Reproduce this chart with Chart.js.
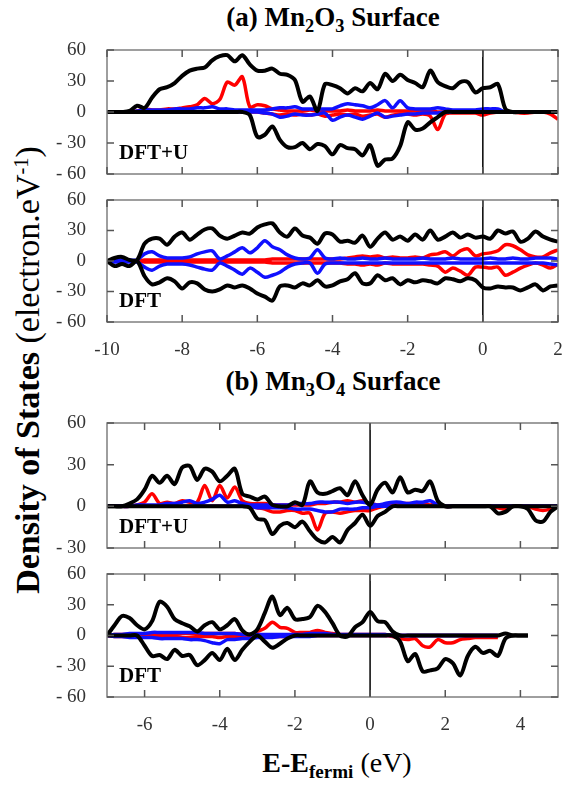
<!DOCTYPE html>
<html>
<head>
<meta charset="utf-8">
<script src="https://cdn.jsdelivr.net/npm/chart.js@4"></script>
<style>
    body { margin: 0; background: #ffffff; }
    #figure { position: relative; width: 586px; height: 787px; overflow: hidden; font-family: 'Liberation Serif', serif; }
    #figure canvas { position: absolute; left: 40px; }
    .panel-title { position: absolute; left: 39px; width: 588px; text-align: center; font-weight: bold; font-size: 27px; line-height: 30px; white-space: nowrap; }
    .panel-title sub, .axis-title sub { font-size: 0.68em; position: relative; top: 0.3em; vertical-align: baseline; line-height: 0; }
    .axis-title sup { font-size: 0.6em; position: relative; top: -0.55em; vertical-align: baseline; line-height: 0; }
    #y-title { position: absolute; left: -272px; top: 350px; width: 600px; height: 40px; line-height: 40px; text-align: center; font-size: 34px; white-space: nowrap; transform: rotate(-90deg); transform-origin: 50% 50%; }
    #x-title { position: absolute; left: 187px; top: 746px; width: 300px; height: 34px; line-height: 34px; text-align: center; font-size: 28px; white-space: nowrap; }
</style>
</head>
<body>
<div id="figure">
    <div class="panel-title" style="top: 2px;">(a) Mn<sub>2</sub>O<sub>3</sub> Surface</div>
    <div class="panel-title" style="top: 366px;">(b) Mn<sub>3</sub>O<sub>4</sub> Surface</div>
    <div id="y-title" class="axis-title"><b>Density of States</b> (electron.eV<sup>-1</sup>)</div>
    <div id="x-title" class="axis-title"><b>E-E<sub>fermi</sub></b> (eV)</div>
    <canvas id="dosA1" width="530" height="148" style="top: 38px;"></canvas>
    <canvas id="dosA2" width="530" height="174" style="top: 188px;"></canvas>
    <canvas id="dosB1" width="530" height="149" style="top: 411px;"></canvas>
    <canvas id="dosB2" width="530" height="175" style="top: 562px;"></canvas>
</div>
<script>
// energy grids (eV relative to E_fermi)
const energiesA = [
    -10, -9.8, -9.6, -9.4, -9.2, -9, -8.8, -8.6, -8.4, -8.2,
    -8, -7.8, -7.6, -7.4, -7.2, -7, -6.8, -6.6, -6.4, -6.2,
    -6, -5.8, -5.6, -5.4, -5.2, -5, -4.8, -4.6, -4.4, -4.2,
    -4, -3.8, -3.6, -3.4, -3.2, -3, -2.8, -2.6, -2.4, -2.2,
    -2, -1.8, -1.6, -1.4, -1.2, -1, -0.8, -0.6, -0.4, -0.2,
    0, 0.2, 0.4, 0.6, 0.8, 1, 1.2, 1.4, 1.6, 1.8,
    2,
];
const energiesB = [
    -7, -6.8, -6.6, -6.4, -6.2, -6, -5.8, -5.6, -5.4, -5.2,
    -5, -4.8, -4.6, -4.4, -4.2, -4, -3.8, -3.6, -3.4, -3.2,
    -3, -2.8, -2.6, -2.4, -2.2, -2, -1.8, -1.6, -1.4, -1.2,
    -1, -0.8, -0.6, -0.4, -0.2, 0, 0.2, 0.4, 0.6, 0.8,
    1, 1.2, 1.4, 1.6, 1.8, 2, 2.2, 2.4, 2.6, 2.8,
    3, 3.2, 3.4, 3.6, 3.8, 4, 4.2, 4.4, 4.6, 4.8,
    5,
];

// tick labels
const xTicksA = [-10, -8, -6, -4, -2, 0, 2];
const xTicksB = [-6, -4, -2, 0, 2, 4];
const yTicksWide = [-60, -30, 0, 30, 60];
const yTicksB1 = [-30, 0, 30, 60];

// (a) Mn2O3, DFT+U
const a1BlackUp = [
    0, 0, 0, 1, 6, 4, 14, 22, 24, 28,
    35, 40, 42, 43, 50, 54, 55, 49, 55, 46,
    40, 40, 42, 37, 36, 31, 10, 15, 1, 27,
    26, 23, 18, 23, 20, 28, 22, 37, 30, 36,
    31, 28, 24, 40, 29, 25, 23, 29, 29, 19,
    23, 24, 27, 3, 0, 0, 0, 0, 0, 0,
    0,
];
const a1BlackDn = [
    0, 0, 0, 0, 0, 0, 0, 0, 0, 0,
    0, 0, 0, 0, 0, 0, 0, 0, 0, -3,
    -24, -22, -14, -27, -34, -34, -30, -36, -31, -33,
    -41, -32, -35, -36, -42, -32, -52, -46, -45, -33,
    -10, -17, -16, -10, -5, 0, 0, 0, 0, 0,
    0, 0, 0, 0, 0, 0, 0, 0, 0, 0,
    0,
];
const a1RedUp = [
    0, 0, 0, 0, 1, 3, 2, 2, 3, 3,
    4, 5, 7, 13, 8, 12, 29, 26, 34, 5,
    7, 6, 3, 2, 1, 1, 1, 2, 1, 1,
    1, 1, 2, 1, 1, 1, 2, 1, 1, 1,
    1, 1, 1, 1, 0, 0, 0, 0, 0, 0,
    0, 0, 0, 0, 0, 0, 0, 0, 0, 0,
    0,
];
const a1RedDn = [
    0, 0, 0, 0, 0, 0, 0, 0, 0, 0,
    0, 0, 0, 0, 0, 0, 0, 0, 0, 0,
    0, -1, -2, -3, -2, -3, -2, -3, -2, -4,
    -3, -2, -3, -2, -4, -3, -2, -5, -3, -2,
    -2, -3, -2, -4, -17, -2, -1, -1, -1, -1,
    -3, -1, 0, 0, 0, -1, -1, 0, 0, -2,
    -7,
];
const a1BlueUp = [
    0, 0, 0, 0, 1, 2, 2, 2, 2, 3,
    3, 3, 4, 4, 5, 3, 3, 2, 2, 2,
    2, 2, 3, 4, 4, 5, 3, 3, 3, 3,
    3, 6, 8, 7, 6, 4, 7, 11, 4, 11,
    4, 3, 3, 3, 4, 3, 2, 2, 2, 2,
    3, 3, 3, 0, 0, 0, 0, 0, 0, 0,
    0,
];
const a1BlueDn = [
    0, 0, 0, 0, 0, 0, 0, 0, 0, 0,
    0, 0, 0, 0, 0, 0, 0, 0, 0, 0,
    0, -1, -2, -5, -4, -2, -3, -3, -2, -1,
    -8, -5, -3, -5, -7, -4, -1, -5, -4, -3,
    -2, -2, -1, -1, -1, 0, 0, 0, 0, 0,
    0, 0, 0, 0, 0, 0, 0, 0, 0, 0,
    0,
];

// (a) Mn2O3, DFT
const a2BlackUp = [
    0, 3, 4, 1, 1, 17, 22, 22, 16, 24,
    28, 21, 26, 31, 32, 25, 22, 25, 28, 27,
    33, 36, 37, 28, 24, 32, 25, 23, 17, 27,
    26, 19, 20, 18, 25, 14, 22, 28, 21, 24,
    20, 26, 21, 30, 21, 24, 28, 23, 26, 23,
    24, 22, 30, 27, 29, 19, 22, 29, 24, 21,
    19,
];
const a2BlackDn = [
    0, -5, -3, -5, 0, -15, -23, -21, -17, -20,
    -27, -21, -22, -28, -30, -28, -24, -26, -24, -27,
    -32, -35, -39, -25, -24, -26, -22, -24, -19, -25,
    -24, -20, -18, -12, -22, -22, -14, -19, -17, -23,
    -19, -21, -19, -20, -22, -17, -18, -20, -17, -19,
    -26, -27, -25, -26, -26, -29, -26, -23, -29, -25,
    -24,
];
const a2RedUp = [
    0, 0, 0, 0, 0, 1, 1, 1, 1, 1,
    1, 1, 1, 1, 1, 1, 1, 1, 1, 1,
    1, 1, 2, 2, 2, 2, 2, 2, 2, 2,
    2, 2, 3, 4, 5, 4, 5, 3, 4, 3,
    3, 4, 3, 6, 7, 9, 5, 10, 12, 5,
    7, 8, 10, 16, 15, 11, 6, 4, 4, 8,
    11,
];
const a2RedDn = [
    0, 0, 0, 0, 0, -1, -1, -1, -1, -1,
    -1, -1, -1, -1, -1, -1, -1, -1, -1, -1,
    -1, -1, -2, -2, -2, -2, -2, -2, -2, -2,
    -2, -2, -3, -3, -4, -3, -4, -2, -3, -3,
    -3, -3, -3, -4, -5, -11, -7, -10, -14, -6,
    -6, -7, -6, -14, -11, -7, -4, -2, -4, -7,
    -3,
];
const a2BlueUp = [
    0, 1, 1, 1, 1, 7, 9, 5, 3, 3,
    3, 4, 7, 9, 10, 2, 5, 9, 13, 8,
    13, 20, 14, 11, 6, 3, 2, 3, 11, 3,
    2, 3, 2, 2, 3, 2, 2, 3, 2, 2,
    2, 2, 3, 2, 2, 2, 3, 2, 2, 2,
    2, 3, 2, 2, 3, 2, 2, 3, 3, 3,
    2,
];
const a2BlueDn = [
    0, -1, -1, -1, -1, -6, -9, -5, -3, -3,
    -3, -4, -6, -8, -9, -2, -5, -9, -13, -7,
    -11, -16, -14, -11, -6, -3, -2, -2, -12, -3,
    -2, -2, -2, -2, -2, -2, -2, -2, -2, -2,
    -2, -2, -2, -2, -2, -2, -2, -2, -2, -2,
    -2, -2, -2, -2, -2, -2, -2, -2, -2, -3,
    -4,
];

// (b) Mn3O4, DFT+U
const b1BlackUp = [
    0, 0, 0, 2, 5, 12, 22, 17, 22, 16,
    28, 29, 19, 27, 25, 18, 22, 27, 9, 7,
    5, 7, 1, 0, 0, 3, 1, 18, 10, 9,
    11, 13, 8, 18, 8, 1, 12, 17, 10, 21,
    10, 12, 11, 18, 4, 0, 0, 0, 0, 0,
    0, 0, 0, 0, 0, 0, 0, 0, 0, 0,
    0,
];
const b1BlackDn = [
    0, 0, 0, 0, 0, 0, 0, 0, 0, 0,
    0, 0, 0, 0, 0, 0, 0, 0, 0, -1,
    -9, -10, -20, -14, -12, -15, -11, -18, -24, -26,
    -22, -26, -17, -12, -6, -14, -7, -4, 0, 0,
    0, 0, 0, 0, 0, 0, 0, 0, 0, 0,
    0, 0, -5, -4, 0, 0, -2, -10, -11, -4,
    0,
];
const b1RedUp = [
    0, 0, 0, 0, 1, 3, 9, 2, 3, 2,
    4, 3, 3, 15, 4, 15, 6, 14, 4, 2,
    2, 2, 1, 1, 1, 1, 1, 1, 2, 2,
    3, 3, 4, 3, 4, 2, 1, 1, 2, 2,
    2, 2, 2, 1, 2, 0, 0, 0, 0, 0,
    0, 0, 0, 0, 0, 0, 0, 0, 0, 0,
    0,
];
const b1RedDn = [
    0, 0, 0, 0, 0, 0, 0, 0, 0, 0,
    0, 0, 0, 0, 0, 0, 0, 0, 0, 0,
    -1, -2, -4, -4, -3, -3, -5, -5, -17, -5,
    -4, -5, -4, -3, -3, -3, -1, 0, 0, 0,
    0, 0, 0, 0, 0, 0, 0, 0, 0, 0,
    0, 0, -1, -2, 0, 0, 0, -2, -3, -2,
    0,
];
const b1BlueUp = [
    0, 0, 0, 0, 1, 1, 1, 1, 2, 2,
    3, 4, 2, 3, 5, 8, 3, 4, 2, 1,
    1, 1, 1, 1, 1, 2, 2, 2, 3, 3,
    3, 3, 2, 3, 3, 2, 1, 2, 3, 3,
    2, 3, 3, 4, 1, 0, 0, 0, 0, 0,
    0, 0, 0, 0, 0, 0, 0, 0, 0, 0,
    0,
];
const b1BlueDn = [
    0, 0, 0, 0, 0, 0, 0, 0, 0, 0,
    0, 0, 0, 0, 0, 0, 0, 0, 0, 0,
    -1, -1, -1, -1, -1, -2, -2, -2, -3, -4,
    -4, -2, -2, -2, -1, -1, 0, 0, 0, 0,
    0, 0, 0, 0, 0, 0, 0, 0, 0, 0,
    0, 0, 0, 0, 0, 0, 0, 0, 0, 0,
    0,
];

// (b) Mn3O4, DFT
const b2BlackUp = [
    0, 10, 19, 17, 10, 6, 14, 33, 28, 16,
    12, 9, 4, 10, 13, 6, 10, 16, 5, 1,
    6, 22, 38, 20, 27, 16, 16, 18, 29, 23,
    12, 0, -1, 8, 13, 23, 14, 13, 4, 0,
    0, 0, 0, 0, 0, 0, 0, 0, 0, 0,
    0, 0, 0, 2, 0, 0, 0, null, null, null,
    null,
];
const b2BlackDn = [
    0, 0, 0, 0, 0, -10, -20, -19, -23, -14,
    -20, -19, -29, -24, -17, -24, -13, -24, -14, -6,
    0, -6, -12, -8, -3, 0, 0, 0, 0, 0,
    0, 0, 0, 0, 0, 0, 0, 0, 0, -6,
    -25, -18, -35, -34, -32, -23, -27, -39, -20, -11,
    -17, -15, -20, -3, 0, 0, 0, null, null, null,
    null,
];
const b2RedUp = [
    0, 1, 1, 1, 1, 1, 1, 1, 1, 1,
    2, 2, 2, 2, 2, 2, 2, 2, 1, 1,
    4, 7, 13, 8, 7, 3, 3, 3, 5, 3,
    2, 1, 1, 1, 1, 1, 1, 1, 0, 0,
    0, 0, 0, 0, 0, 0, 0, 0, 0, 0,
    0, 0, 0, null, null, null, null, null, null, null,
    null,
];
const b2RedDn = [
    0, -1, -1, -1, -1, -1, -1, -1, -1, -1,
    -2, -2, -1, -1, -1, -2, -1, -1, -1, -1,
    -1, -1, -1, -1, -1, 0, 0, 0, 0, 0,
    0, 0, 0, 0, 0, 0, 0, 0, -1, -3,
    -4, -3, -10, -11, -4, -7, -7, -4, -3, -2,
    -2, -2, -2, null, null, null, null, null, null, null,
    null,
];
const b2BlueUp = [
    0, 1, 1, 2, 2, 2, 3, 3, 3, 3,
    3, 3, 3, 2, 2, 2, 2, 2, 1, 1,
    1, 1, 1, 1, 1, 1, 1, 2, 2, 2,
    1, 1, 1, 1, 1, 1, 1, 1, 0, 0,
    0, 0, 0, 0, 0, 0, 0, 0, 0, 0,
    0, 0, 0, null, null, null, null, null, null, null,
    null,
];
const b2BlueDn = [
    0, -1, -1, -2, -2, -2, -2, -3, -3, -3,
    -3, -4, -4, -5, -7, -8, -4, -4, -3, -3,
    -2, -2, -2, -1, -1, -1, -1, -1, 0, 0,
    0, 0, 0, 0, 0, 0, 0, 0, 0, 0,
    0, 0, 0, 0, 0, 0, 0, 0, 0, 0,
    0, 0, 0, null, null, null, null, null, null, null,
    null,
];

const tickFont = { family: "'Liberation Serif', serif", size: 19 };
const tickColor = '#333333';
const frameColor = '#7f7f7f';

// box, inward tick marks, fermi line and panel tag
const dosFrame = {
    id: 'dosFrame',
    afterDatasetsDraw(chart, args, opts) {
        const { ctx, chartArea: area } = chart;
        const xScale = chart.scales.x;
        const yScale = chart.scales.y;
        ctx.save();

        const xFermi = xScale.getPixelForValue(0);
        ctx.strokeStyle = '#000000';
        ctx.lineWidth = 1.5;
        ctx.beginPath();
        ctx.moveTo(xFermi, area.top);
        ctx.lineTo(xFermi, area.bottom);
        ctx.stroke();

        ctx.strokeStyle = frameColor;
        ctx.lineWidth = 1.5;
        ctx.strokeRect(area.left, area.top, area.right - area.left, area.bottom - area.top);

        ctx.strokeStyle = '#555555';
        ctx.beginPath();
        opts.xTicks.forEach((v) => {
            const px = xScale.getPixelForValue(v);
            ctx.moveTo(px, area.top);
            ctx.lineTo(px, area.top + 7);
            ctx.moveTo(px, area.bottom);
            ctx.lineTo(px, area.bottom - 7);
        });
        opts.yTicks.forEach((v) => {
            const py = yScale.getPixelForValue(v);
            ctx.moveTo(area.left, py);
            ctx.lineTo(area.left + 7, py);
            ctx.moveTo(area.right, py);
            ctx.lineTo(area.right - 7, py);
        });
        ctx.stroke();

        ctx.fillStyle = '#000000';
        ctx.font = "bold 21px 'Liberation Serif', serif";
        ctx.textBaseline = 'alphabetic';
        ctx.fillText(opts.label, area.left + 12, area.bottom - 15.5);
        ctx.restore();
    },
};

function toPoints(energies, values) {
    return energies.map((e, i) => ({ x: e, y: values[i] }));
}

function curve(energies, values, color, width) {
    return {
        data: toPoints(energies, values),
        borderColor: color,
        borderWidth: width,
        pointRadius: 0,
        tension: 0.3,
        fill: false,
    };
}

function formatTick(value) {
    return value < 0 ? '- ' + Math.abs(value) : String(value);
}

function initPanel(id, cfg) {
    const canvas = document.getElementById(id);
    const e = cfg.energies;
    const s = cfg.series;

    new Chart(canvas, {
        type: 'line',
        data: {
            datasets: [
                curve(e, s.blackUp, '#000000', 4),
                curve(e, s.blackDn, '#000000', 4),
                curve(e, s.blueUp, '#1010ff', 3.5),
                curve(e, s.blueDn, '#1010ff', 3.5),
                curve(e, s.redUp, '#ff0000', 3.5),
                curve(e, s.redDn, '#ff0000', 3.5),
            ],
        },
        options: {
            responsive: false,
            animation: false,
            layout: { padding: { top: 12, right: 12, bottom: cfg.showX ? 0 : 12, left: 0 } },
            plugins: {
                legend: { display: false },
                tooltip: { enabled: false },
                dosFrame: { xTicks: cfg.xTicks, yTicks: cfg.yTicks, label: cfg.label },
            },
            scales: {
                x: {
                    type: 'linear',
                    display: cfg.showX,
                    min: cfg.xMin,
                    max: cfg.xMax,
                    afterBuildTicks: (scale) => {
                        scale.ticks = cfg.xTicks.map((v) => ({ value: v }));
                    },
                    afterFit: (scale) => {
                        scale.height = cfg.showX ? 40 : 0;
                        scale.paddingLeft = 0;
                        scale.paddingRight = 0;
                    },
                    ticks: {
                        font: tickFont,
                        color: tickColor,
                        padding: 9,
                        maxRotation: 0,
                        callback: (v) => (v < 0 ? '-' + Math.abs(v) : String(v)),
                    },
                    grid: { display: false },
                    border: { display: false },
                },
                y: {
                    min: cfg.yMin,
                    max: cfg.yMax,
                    afterBuildTicks: (scale) => {
                        scale.ticks = cfg.yTicks.map((v) => ({ value: v }));
                    },
                    afterFit: (scale) => {
                        scale.width = 67;
                        scale.paddingTop = 0;
                        scale.paddingBottom = 0;
                    },
                    ticks: {
                        font: tickFont,
                        color: tickColor,
                        padding: 13,
                        callback: (v) => formatTick(v),
                    },
                    grid: { display: false },
                    border: { display: false },
                },
            },
        },
        plugins: [dosFrame],
    });
}

document.addEventListener('DOMContentLoaded', () => {
    initPanel('dosA1', {
        energies: energiesA, xMin: -10, xMax: 2, yMin: -60, yMax: 60,
        xTicks: xTicksA, yTicks: yTicksWide, label: 'DFT+U', showX: false,
        series: { blackUp: a1BlackUp, blackDn: a1BlackDn, redUp: a1RedUp, redDn: a1RedDn, blueUp: a1BlueUp, blueDn: a1BlueDn },
    });
    initPanel('dosA2', {
        energies: energiesA, xMin: -10, xMax: 2, yMin: -60, yMax: 60,
        xTicks: xTicksA, yTicks: yTicksWide, label: 'DFT', showX: true,
        series: { blackUp: a2BlackUp, blackDn: a2BlackDn, redUp: a2RedUp, redDn: a2RedDn, blueUp: a2BlueUp, blueDn: a2BlueDn },
    });
    initPanel('dosB1', {
        energies: energiesB, xMin: -7, xMax: 5, yMin: -30, yMax: 60,
        xTicks: xTicksB, yTicks: yTicksB1, label: 'DFT+U', showX: false,
        series: { blackUp: b1BlackUp, blackDn: b1BlackDn, redUp: b1RedUp, redDn: b1RedDn, blueUp: b1BlueUp, blueDn: b1BlueDn },
    });
    initPanel('dosB2', {
        energies: energiesB, xMin: -7, xMax: 5, yMin: -60, yMax: 60,
        xTicks: xTicksB, yTicks: yTicksWide, label: 'DFT', showX: true,
        series: { blackUp: b2BlackUp, blackDn: b2BlackDn, redUp: b2RedUp, redDn: b2RedDn, blueUp: b2BlueUp, blueDn: b2BlueDn },
    });
});
</script>
</body>
</html>
